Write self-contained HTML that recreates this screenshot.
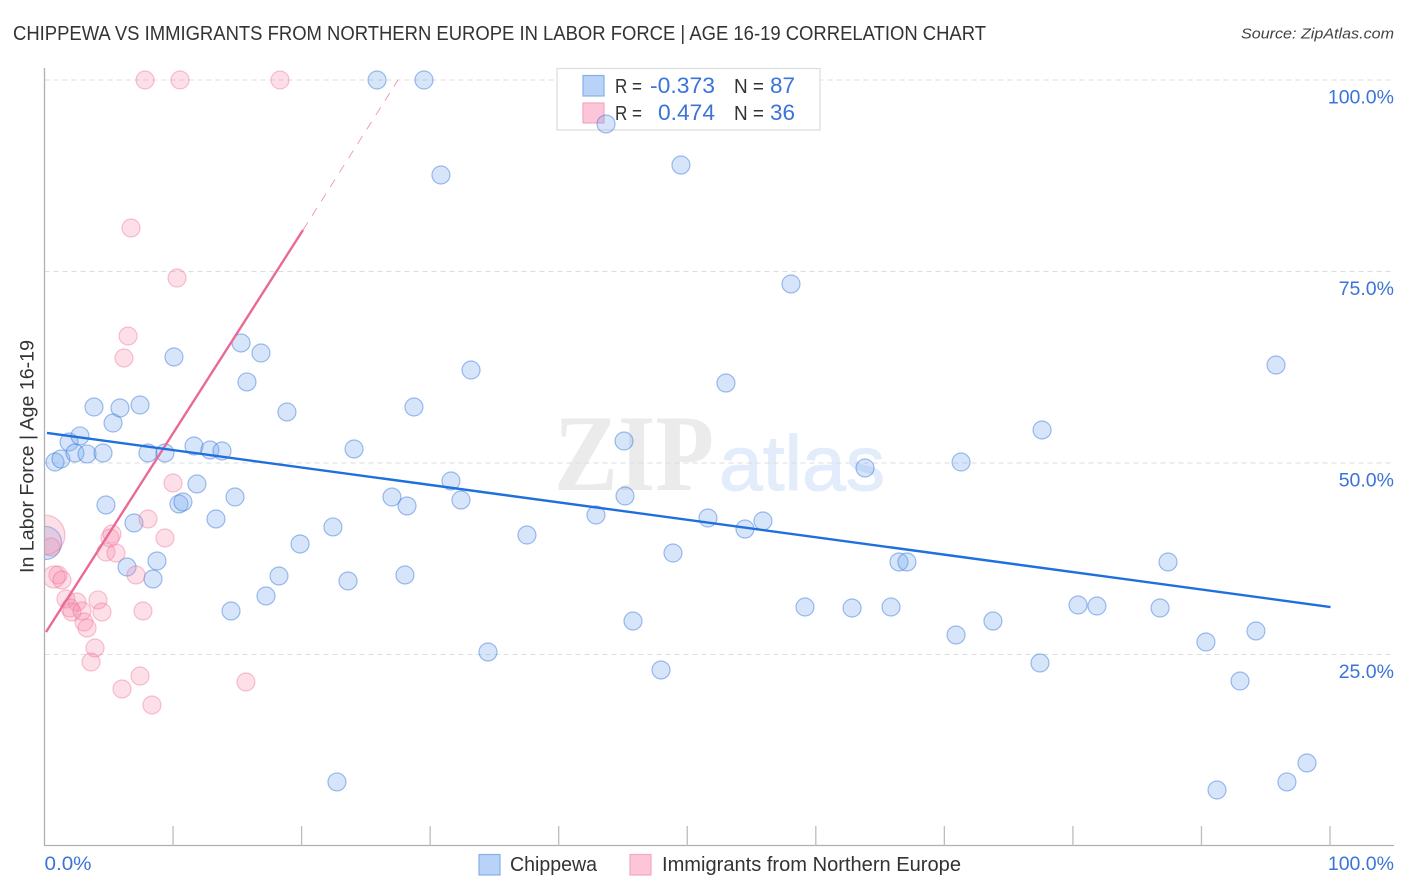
<!DOCTYPE html>
<html lang="en">
<head>
<meta charset="utf-8">
<title>Chippewa vs Immigrants from Northern Europe in Labor Force | Age 16-19 Correlation Chart</title>
<style>
html,body{margin:0;padding:0;background:#fff;width:1406px;height:892px;overflow:hidden}
svg{display:block;font-family:"Liberation Sans",sans-serif}
</style>
</head>
<body>
<svg id="chart" xmlns="http://www.w3.org/2000/svg" width="1406" height="892" viewBox="0 0 1406 892">
  <rect x="0" y="0" width="1406" height="892" fill="#ffffff"/>
  <text x="13" y="40" font-size="20" fill="#333333" textLength="973" lengthAdjust="spacingAndGlyphs">CHIPPEWA VS IMMIGRANTS FROM NORTHERN EUROPE IN LABOR FORCE | AGE 16-19 CORRELATION CHART</text>
  <text x="1241" y="38.5" font-size="15" font-style="italic" fill="#444444" textLength="153" lengthAdjust="spacingAndGlyphs">Source: ZipAtlas.com</text>
  <g id="watermark">
    <text x="554" y="490" font-family="'Liberation Serif',serif" font-weight="bold" font-size="109" fill="#ebebeb" textLength="160" lengthAdjust="spacingAndGlyphs">ZIP</text>
    <text x="719" y="490" font-size="78" fill="#e2ecfb" stroke="#e2ecfb" stroke-width="1" textLength="166" lengthAdjust="spacingAndGlyphs">atlas</text>
  </g>
  <g id="grid"></g>
  <g id="stats-legend">
    <rect x="557" y="68.5" width="263" height="61.5" fill="#ffffff" stroke="#dddddd" stroke-width="1.2"/>
    <rect x="583" y="75.5" width="21" height="20.5" fill="#b9d3f8" stroke="#86afe9" stroke-width="1.2"/>
    <rect x="583" y="103" width="21" height="20" fill="#fcc5d8" stroke="#f3a9c1" stroke-width="1.2"/>
    <text x="615" y="93" font-size="20" fill="#333333" textLength="27" lengthAdjust="spacingAndGlyphs">R =</text>
    <text x="650" y="93" font-size="22" fill="#3b74d6" textLength="65" lengthAdjust="spacingAndGlyphs">-0.373</text>
    <text x="734" y="93" font-size="20" fill="#333333" textLength="30" lengthAdjust="spacingAndGlyphs">N =</text>
    <text x="770" y="93" font-size="22" fill="#3b74d6" textLength="25" lengthAdjust="spacingAndGlyphs">87</text>
    <text x="615" y="120" font-size="20" fill="#333333" textLength="27" lengthAdjust="spacingAndGlyphs">R =</text>
    <text x="658" y="120" font-size="22" fill="#3b74d6" textLength="57" lengthAdjust="spacingAndGlyphs">0.474</text>
    <text x="734" y="120" font-size="20" fill="#333333" textLength="30" lengthAdjust="spacingAndGlyphs">N =</text>
    <text x="770" y="120" font-size="22" fill="#3b74d6" textLength="25" lengthAdjust="spacingAndGlyphs">36</text>
  </g>
  <svg x="44.5" y="60" width="1360" height="786" viewBox="44.5 60 1360 786" overflow="hidden">
    <g id="points"></g>
  </svg>
  <rect x="0" y="490" width="44.5" height="110" fill="#ffffff"/>
  <g id="axes"></g>
  <text transform="translate(33.5,573) rotate(-90)" font-size="19" fill="#333333" textLength="233" lengthAdjust="spacingAndGlyphs">In Labor Force | Age 16-19</text>
  <g id="trends"></g>
  <g id="bottom-legend">
    <rect x="479" y="854.5" width="21" height="20.5" fill="#b9d3f8" stroke="#86afe9" stroke-width="1.2"/>
    <text x="510" y="871" font-size="20" fill="#333333" textLength="87" lengthAdjust="spacingAndGlyphs">Chippewa</text>
    <rect x="630" y="854.5" width="21" height="20.5" fill="#fcc5d8" stroke="#f3a9c1" stroke-width="1.2"/>
    <text x="662" y="871" font-size="20" fill="#333333" textLength="299" lengthAdjust="spacingAndGlyphs">Immigrants from Northern Europe</text>
  </g>
</svg>
<script>
const xTickValues = [10,20,30,40,50,60,70,80,90,100];
const yTickValues = [25,50,75,100];
const yTickLabels = ["25.0%","50.0%","75.0%","100.0%"];
const xEdgeLabels = ["0.0%","100.0%"];

const chippewaX = [0.82,1.28,1.91,2.37,2.76,3.31,4.55,3.85,5.33,5.87,7.43,4.78,6.96,6.42,8.75,8.44,8.05,9.37,11.63,12.87,13.81,10.46,10.77,11.86,13.34,14.82,10.07,15.29,16.84,15.75,18.86,24.08,19.88,22.44,18.24,17.23,14.51,23.61,22.75,25.87,29.52,27.03,28.20,28.74,28.04,30.84,33.18,31.62,32.40,37.53,34.50,42.90,43.68,49.51,45.08,45.16,45.78,47.96,48.89,51.61,53.01,54.49,55.89,58.07,59.16,62.82,63.83,65.85,66.47,67.09,71.30,70.91,73.78,77.60,77.44,80.40,81.87,86.78,87.40,90.35,91.21,93.00,94.24,95.80,96.65,98.21,0.04];
const chippewaY = [50.13,50.52,52.74,51.31,53.53,51.18,51.31,57.31,55.22,57.18,57.57,44.52,42.17,36.42,37.21,34.86,51.31,51.31,52.22,51.70,51.57,44.65,44.91,47.26,42.69,45.56,63.84,65.67,64.36,60.58,56.66,51.83,39.43,41.65,35.25,32.64,30.68,34.60,8.36,100,100,45.56,44.39,57.31,35.38,87.60,62.14,47.65,45.17,40.60,25.33,43.21,94.26,88.90,52.87,45.69,29.37,22.98,38.25,42.82,60.44,41.38,42.43,73.37,31.20,31.07,49.35,31.20,37.08,37.08,50.13,27.55,29.37,54.31,23.89,31.46,31.33,31.07,37.08,26.63,7.31,21.54,28.07,62.79,8.36,10.84,39.56];
const chippewaWeight = [1,1,1,1,1,1,1,1,1,1,1,1,1,1,1,1,1,1,1,1,1,1,1,1,1,1,1,1,1,1,1,1,1,1,1,1,1,1,1,1,1,1,1,1,1,1,1,1,1,1,1,1,1,1,1,1,1,1,1,1,1,1,1,1,1,1,1,1,1,1,1,1,1,1,1,1,1,1,1,1,1,1,1,1,1,1,3.4];

const immigrantsX = [7.82,10.54,18.32,6.73,10.31,6.50,6.18,10.00,8.05,9.37,5.25,5.10,4.78,5.56,7.12,7.66,4.16,4.47,1.67,2.53,1.98,2.14,2.92,3.07,3.31,3.93,3.62,7.43,6.03,8.36,15.67,1.05,0.74,1.36,0.51,0.04];
const immigrantsY = [100,100,100,80.68,74.15,66.58,63.71,47.39,42.69,40.21,40.73,40.21,38.38,38.25,35.38,30.68,32.12,30.55,32.25,31.85,31.07,30.55,30.68,29.24,28.46,25.85,24.02,22.19,20.50,18.41,21.41,35.38,35.12,34.73,39.03,40.60];
const immigrantsWeight = [1,1,1,1,1,1,1,1,1,1,1,1,1,1,1,1,1,1,1,1,1,1,1,1,1,1,1,1,1,1,1,1,1.5,1,1,4.9];

const chippewaTrendX = [0.19,100.04];
const chippewaTrendY = [53.92,31.20];
const immigrantsTrendX = [0.12,20.11];
const immigrantsTrendY = [27.94,80.42];
const immigrantsProjectionX = [20.11,27.5];
const immigrantsProjectionY = [80.42,100];

const SVGNS = "http://www.w3.org/2000/svg";
const xScale = v => 44.5 + v * 12.855;
const yScale = v => 846 - v * 7.66;
const rScale = w => 9 * Math.sqrt(w);

function make(tag, attrs, parent) {
  const el = document.createElementNS(SVGNS, tag);
  for (const k in attrs) el.setAttribute(k, attrs[k]);
  parent.appendChild(el);
  return el;
}

const gridG = document.getElementById("grid");
const axesG = document.getElementById("axes");
const pointsG = document.getElementById("points");
const trendsG = document.getElementById("trends");

yTickValues.forEach((v, i) => {
  const line = make("line", {x1: 44.5, x2: 1394, y1: yScale(v), y2: yScale(v), stroke: "#dcdcdc", "stroke-width": 1, "stroke-dasharray": "5 4"}, gridG);
  
  
  const label = make("text", {x: 1394, y: yScale(v) + 23.5, "text-anchor": "end", "font-size": 19.5, fill: "#3b74d6"}, axesG);
  
  
  label.textContent = yTickLabels[i];
});

const yAxis = make("line", {x1: 44.5, x2: 44.5, y1: 68, y2: 846, stroke: "#b0b0b0", "stroke-width": 1.3}, axesG);


const xAxis = make("line", {x1: 44, x2: 1394, y1: 845.5, y2: 845.5, stroke: "#b0b0b0", "stroke-width": 1.3}, axesG);



xTickValues.forEach(v => {
  const tick = make("line", {x1: xScale(v), x2: xScale(v), y1: 826, y2: 846, stroke: "#bdbdbd", "stroke-width": 1.3}, axesG);
  
  
});

const xLabelLeft = make("text", {x: 44.5, y: 870, "font-size": 19.5, fill: "#3b74d6", textLength: 47, lengthAdjust: "spacingAndGlyphs"}, axesG);


xLabelLeft.textContent = xEdgeLabels[0];
const xLabelRight = make("text", {x: 1394, y: 870, "font-size": 19.5, fill: "#3b74d6", "text-anchor": "end"}, axesG);


xLabelRight.textContent = xEdgeLabels[1];

chippewaX.forEach((v, i) => {
  const c = make("circle", {cx: xScale(v), cy: yScale(chippewaY[i]), r: rScale(chippewaWeight[i]), fill: "rgba(118,168,240,0.3)", stroke: "rgba(52,112,215,0.45)", "stroke-width": 1.2}, pointsG);
  
  
});
immigrantsX.forEach((v, i) => {
  const c = make("circle", {cx: xScale(v), cy: yScale(immigrantsY[i]), r: rScale(immigrantsWeight[i]), fill: "rgba(246,135,170,0.27)", stroke: "rgba(236,100,145,0.38)", "stroke-width": 1.2}, pointsG);
  
  
});

const projection = make("line", {x1: xScale(immigrantsProjectionX[0]), y1: yScale(immigrantsProjectionY[0]), x2: xScale(immigrantsProjectionX[1]), y2: yScale(immigrantsProjectionY[1]), stroke: "#ec6b96", "stroke-width": 0.8, "stroke-dasharray": "9 8", opacity: 0.8}, trendsG);


const pinkTrend = make("line", {x1: xScale(immigrantsTrendX[0]), y1: yScale(immigrantsTrendY[0]), x2: xScale(immigrantsTrendX[1]), y2: yScale(immigrantsTrendY[1]), stroke: "#e96a94", "stroke-width": 2.4}, trendsG);


const blueTrend = make("line", {x1: xScale(chippewaTrendX[0]), y1: yScale(chippewaTrendY[0]), x2: xScale(chippewaTrendX[1]), y2: yScale(chippewaTrendY[1]), stroke: "#1f6fdc", "stroke-width": 2.4}, trendsG);


</script>
</body>
</html>
